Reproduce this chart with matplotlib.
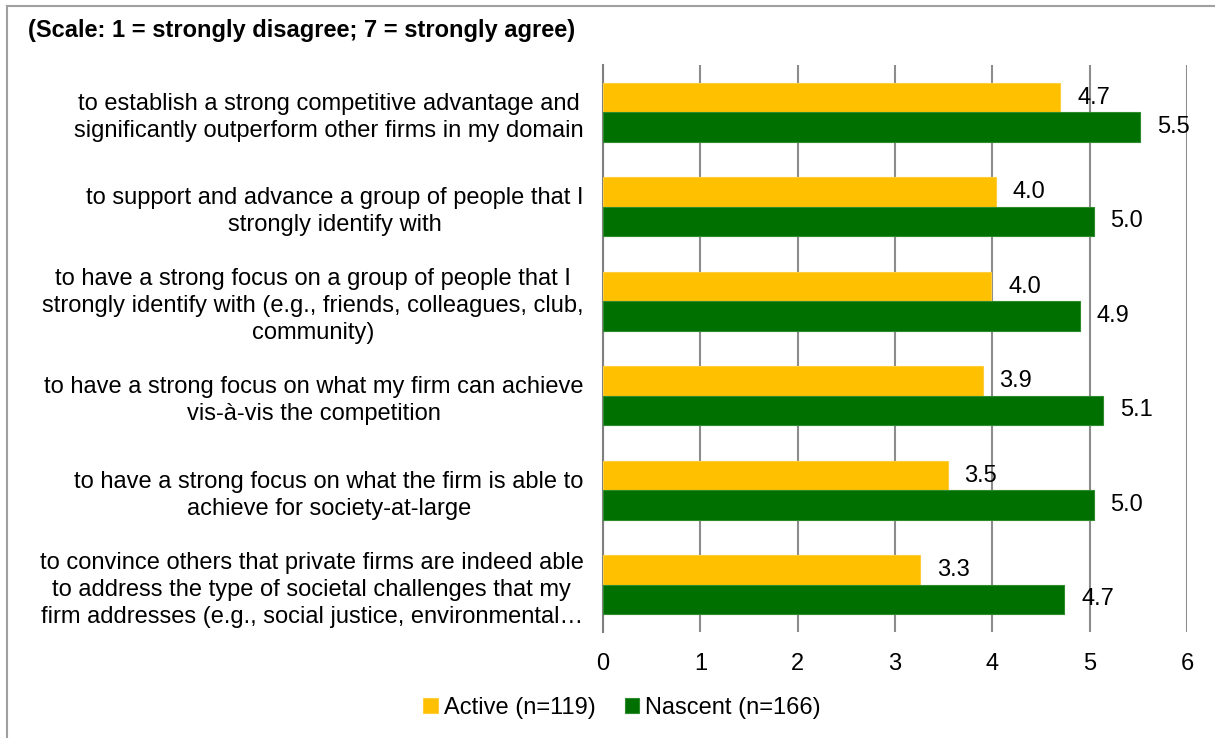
import matplotlib
matplotlib.use("Agg")
import matplotlib.pyplot as plt
import numpy as np
from matplotlib.lines import Line2D

plt.rcParams['font.family'] = ['Liberation Sans', 'DejaVu Sans']

categories = [
    "to establish a strong competitive advantage and\nsignificantly outperform other firms in my domain",
    "to support and advance a group of people that I\nstrongly identify with",
    "to have a strong focus on a group of people that I\nstrongly identify with (e.g., friends, colleagues, club,\ncommunity)",
    "to have a strong focus on what my firm can achieve\nvis-à-vis the competition",
    "to have a strong focus on what the firm is able to\nachieve for society-at-large",
    "to convince others that private firms are indeed able\nto address the type of societal challenges that my\nfirm addresses (e.g., social justice, environmental…",
]
active = [4.70, 4.04, 3.99, 3.90, 3.54, 3.26]
nascent = [5.52, 5.04, 4.90, 5.14, 5.04, 4.74]
series_names = ["Active (n=119)", "Nascent (n=166)"]
xticks = [0, 1, 2, 3, 4, 5, 6]
title = "(Scale: 1 = strongly disagree; 7 = strongly agree)"

W, H = 1215, 738
fig = plt.figure(figsize=(W / 100, H / 100), dpi=100)
ax = fig.add_axes([603 / W, 1 - 632 / H, (1187 - 603) / W, (632 - 65) / H])

# partial chart-area border (left and top only, as in the reference)
fig.add_artist(Line2D([7 / W, 7 / W], [0, 1 - 6 / H], transform=fig.transFigure,
                      color='#a0a0a0', linewidth=1.5))
fig.add_artist(Line2D([7 / W, 1], [1 - 6 / H, 1 - 6 / H], transform=fig.transFigure,
                      color='#a0a0a0', linewidth=1.5))

n = len(categories)
y = np.arange(n)
h = 0.31
bars_a = ax.barh(y - h / 2, active, height=h, color='#FFC000', edgecolor='#FFCE3A', linewidth=0.8,
                 label=series_names[0], zorder=3)
bars_n = ax.barh(y + h / 2, nascent, height=h, color='#007000', edgecolor='#2E8B2E', linewidth=0.8,
                 label=series_names[1], zorder=3)

for bars, vals in ((bars_a, active), (bars_n, nascent)):
    for b, v in zip(bars, vals):
        ax.annotate(f"{v:.1f}", (b.get_width(), b.get_y() + b.get_height() / 2),
                    xytext=(12, 0), textcoords='offset points', ha='left', va='center',
                    fontsize=17, color='black', zorder=4)

ax.set_xlim(0, 6)
ax.set_ylim(n - 0.5, -0.5)
ax.set_xticks(xticks)
ax.set_xticklabels([str(t) for t in xticks], fontsize=17)
ax.set_yticks(y)
ax.set_yticklabels(categories, fontsize=17)
for lbl in ax.get_yticklabels():
    lbl.set_multialignment('center')
    lbl.set_linespacing(1.3)
ax.tick_params(axis='y', length=0, pad=14)
ax.tick_params(axis='x', length=0, pad=15)
ax.grid(axis='x', color='#8c8c8c', linewidth=1.5, zorder=0)
ax.set_axisbelow(True)
for s in ['top', 'right', 'bottom']:
    ax.spines[s].set_visible(False)
ax.spines['left'].set_color('#808080')
ax.spines['left'].set_linewidth(1.5)

fig.text(28 / W, 1 - 31 / H, title, fontsize=17, fontweight='bold', ha='left', va='center')

handles = [bars_a, bars_n]
fig.legend(handles, series_names, loc='center', bbox_to_anchor=(622 / W, 1 - 708 / H), ncol=2,
           frameon=False, fontsize=17, handlelength=0.6, handleheight=0.6, handletextpad=0.25,
           columnspacing=1.25)

fig.savefig("out.png", dpi=100)
